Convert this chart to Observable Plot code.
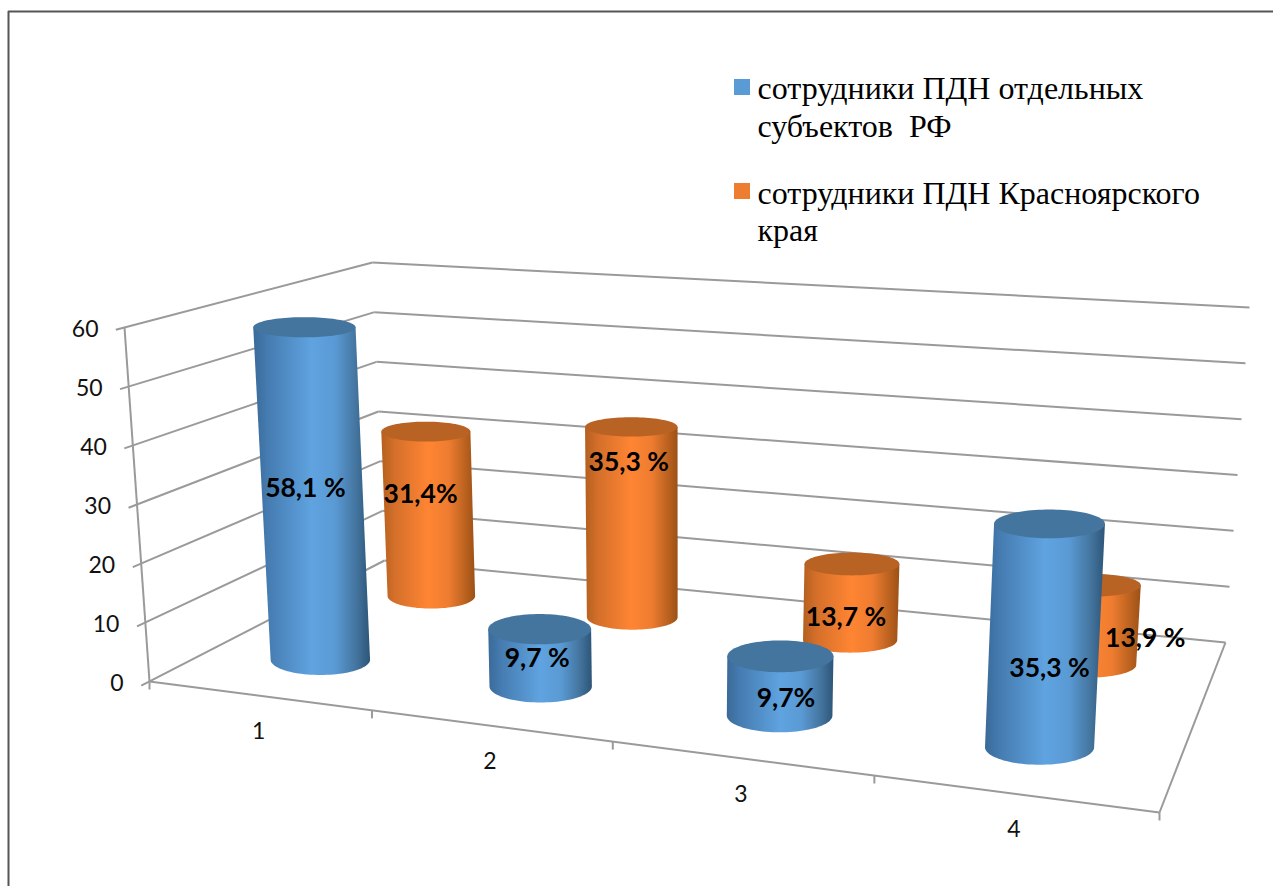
<!DOCTYPE html>
<html lang="ru">
<head>
<meta charset="utf-8">
<title>Сотрудники ПДН</title>
<script src="https://cdn.jsdelivr.net/npm/d3@7"></script>
<script src="https://cdn.jsdelivr.net/npm/@observablehq/plot@0.6"></script>
<style>
  html, body { margin: 0; padding: 0; background: #fff; }
  svg { display: block; }
</style>
</head>
<body>
<div id="chart"></div>
<script>
// ---- data ----
const categories = ["1", "2", "3", "4"];
const valueTicks = [0, 10, 20, 30, 40, 50, 60];
const seriesRF = [58.1, 9.7, 9.7, 35.3];
const seriesKK = [31.4, 35.3, 13.7, 13.9];
const labelsRF = ["58,1 %", "9,7 %", "9,7%", "35,3 %"];
const labelsKK = ["31,4%", "35,3 %", "13,7 %", "13,9 %"];
const legendLinesRF = ["сотрудники ПДН отдельных", "субъектов  РФ"];
const legendLinesKK = ["сотрудники ПДН Красноярского", "края"];

// ---- layout of the 3D box (pixels of the picture) ----
const W = 1273, H = 886;
const floor = {fl: [149, 681], fr: [1159, 812], bl: [384, 560], br: [1225, 642]};
const roof  = {fl: [124, 327], fr: [1182, 405], bl: [372, 262], br: [1249, 307]};
const warp = (u) => u / (u + (1 - u) * 1.18);
const bil = (c, t, v, i) =>
  (c.fl[i] * (1 - t) + c.fr[i] * t) * (1 - v) + (c.bl[i] * (1 - t) + c.br[i] * t) * v;
function proj(u, v, w) {
  const t = warp(u), k = w / 60;
  const x0 = bil(floor, t, v, 0), y0 = bil(floor, t, v, 1);
  return {x: x0 + (bil(roof, t, v, 0) - x0) * k, y: y0 + (bil(roof, t, v, 1) - y0) * k};
}
const catU = (i) => (i + 0.5) / categories.length;

// ---- box lines ----
const lineRows = [];
const addLine = (id, a, b) => lineRows.push({id, ...a}, {id, ...b});
valueTicks.forEach((w) => {
  addLine("wall" + w, proj(0, -0.035, w), proj(0, 1, w));
  addLine("back" + w, proj(0, 1, w), proj(1, 1, w));
});
addLine("axis", proj(0, 0, 0), proj(0, 0, 60));
addLine("front", proj(0, 0, 0), proj(1, 0, 0));
addLine("right", proj(1, 0, 0), proj(1, 1, 0));
d3.range(categories.length + 1).forEach((i) => {
  const p = proj(i / categories.length, 0, 0);
  addLine("tick" + i, p, {x: p.x, y: p.y + 8});
});

// ---- cylinders ----
const angles = d3.range(0, 49).map((d) => (d / 48) * Math.PI);
const seriesStyle = {
  kk: {v: 0.79,  du: 0.002, rx: 43, rxT: 7.0, ry: 12.5, ryT: 0, ryW: 0.08, body: "url(#bodyKK)", top: "#b86224"},
  rf: {v: 0.285, du: 0,     rx: 49, rxT: 6.5, ry: 15,   ryT: 3, ryW: 0.09, body: "url(#bodyRF)", top: "#44759f"}
};
function cylinder(value, i, key) {
  const s = seriesStyle[key], u = catU(i) + s.du, t = warp(u);
  const b = proj(u, s.v, 0), a = proj(u, s.v, value);
  const rxB = s.rx + s.rxT * t, rxA = rxB + 0.025 * value;
  const ryB = s.ry + s.ryT * t, ryA = ryB - s.ryW * value;
  const id = key + i;
  const body = [{id, x: a.x - rxA, y: a.y}];
  angles.slice().reverse().forEach((g) =>
    body.push({id, x: b.x + rxB * Math.cos(g), y: b.y + ryB * Math.sin(g)}));
  body.push({id, x: a.x + rxA, y: a.y});
  const lid = [];
  angles.concat(angles.map((g) => g + Math.PI)).forEach((g) =>
    lid.push({id, x: a.x + rxA * Math.cos(g), y: a.y + ryA * Math.sin(g)}));
  return {body, lid, mid: {x: (a.x + b.x) / 2, y: (a.y + b.y) / 2}};
}
const cylKK = seriesKK.map((d, i) => cylinder(d, i, "kk"));
const cylRF = seriesRF.map((d, i) => cylinder(d, i, "rf"));

// nudges of the value labels from the middle of their cylinder
const nudgeRF = [[-7, -6], [-3, 0], [6, 12], [5, 32]];
const nudgeKK = [[-8, -20], [-3, -61], [-5, 14], [56, 12]];
const labelRows = [
  ...labelsKK.map((text, i) => ({text, x: cylKK[i].mid.x + nudgeKK[i][0], y: cylKK[i].mid.y + nudgeKK[i][1]})),
  ...labelsRF.map((text, i) => ({text, x: cylRF[i].mid.x + nudgeRF[i][0], y: cylRF[i].mid.y + nudgeRF[i][1]}))
];

const tickRows = valueTicks.map((w) => ({text: String(w), ...proj(0, 0, w)}));
const catRows = categories.map((text, i) => ({text, ...proj(catU(i), 0, 0)}));

// ---- legend layout ----
const legendX = 757, legendSwatch = [734, 750];
const legendRows = [
  {text: legendLinesRF[0], x: legendX, y: 98},
  {text: legendLinesRF[1], x: legendX, y: 136},
  {text: legendLinesKK[0], x: legendX, y: 203},
  {text: legendLinesKK[1], x: legendX, y: 240}
];
const swatches = [
  {x1: legendSwatch[0], x2: legendSwatch[1], y1: 79, y2: 95, fill: "#5b9bd5"},
  {x1: legendSwatch[0], x2: legendSwatch[1], y1: 183, y2: 199, fill: "#ed7d31"}
];
const frameRows = [{id: "f", x: 8, y: H}, {id: "f", x: 8, y: 11}, {id: "f", x: W, y: 11}];

const defs = () => {
  const g = d3.create("svg:g");
  g.html(`<defs>
    <linearGradient id="bodyRF" x1="0" x2="1" y1="0" y2="0">
      <stop offset="0" stop-color="#3a6a98"/><stop offset="0.12" stop-color="#457bb0"/>
      <stop offset="0.5" stop-color="#5fa3e0"/><stop offset="0.7" stop-color="#5a9ad4"/>
      <stop offset="0.88" stop-color="#44759f"/><stop offset="1" stop-color="#2d5578"/>
    </linearGradient>
    <linearGradient id="bodyKK" x1="0" x2="1" y1="0" y2="0">
      <stop offset="0" stop-color="#b4601f"/><stop offset="0.14" stop-color="#d46f2a"/>
      <stop offset="0.5" stop-color="#ff8533"/><stop offset="0.72" stop-color="#ee7c30"/>
      <stop offset="0.9" stop-color="#b9611f"/><stop offset="1" stop-color="#9c5117"/>
    </linearGradient>
  </defs>`);
  return g.node();
};

const chart = Plot.plot({
  width: W, height: H,
  marginTop: 0, marginRight: 0, marginBottom: 0, marginLeft: 0,
  style: {background: "#fff", overflow: "visible"},
  x: {domain: [0, W], range: [0, W], axis: null},
  y: {domain: [0, H], range: [0, H], axis: null},
  marks: [
    defs,
    Plot.line(frameRows, {x: "x", y: "y", z: "id", stroke: "#555", strokeWidth: 2}),
    Plot.line(lineRows, {x: "x", y: "y", z: "id", stroke: "#9a9a9a", strokeWidth: 2, strokeLinecap: "butt"}),
    Plot.text(tickRows, {x: "x", y: "y", text: "text", dx: -26, dy: 2.5, textAnchor: "end", fontSize: 23, fontFamily: "Lato", fill: "#111"}),
    Plot.text(catRows, {x: "x", y: "y", text: "text", dy: 36, fontSize: 23, fontFamily: "Lato", fill: "#111"}),
    ...cylKK.flatMap((c) => [
      Plot.line(c.body, {x: "x", y: "y", z: "id", stroke: "none", fill: seriesStyle.kk.body}),
      Plot.line(c.lid, {x: "x", y: "y", z: "id", stroke: "none", fill: seriesStyle.kk.top})
    ]),
    ...cylRF.flatMap((c) => [
      Plot.line(c.body, {x: "x", y: "y", z: "id", stroke: "none", fill: seriesStyle.rf.body}),
      Plot.line(c.lid, {x: "x", y: "y", z: "id", stroke: "none", fill: seriesStyle.rf.top})
    ]),
    Plot.text(labelRows, {x: "x", y: "y", text: "text", dy: 1, fontSize: 26.5, fontWeight: "bold", fontFamily: "Lato", fill: "#000"}),
    Plot.rect(swatches, {x1: "x1", x2: "x2", y1: "y1", y2: "y2", fill: "fill"}),
    Plot.text(legendRows, {x: "x", y: "y", text: "text", textAnchor: "start", lineAnchor: "bottom", fontSize: 32, fontFamily: "Liberation Serif", fill: "#000"})
  ]
});
document.getElementById("chart").append(chart);
</script>
</body>
</html>
